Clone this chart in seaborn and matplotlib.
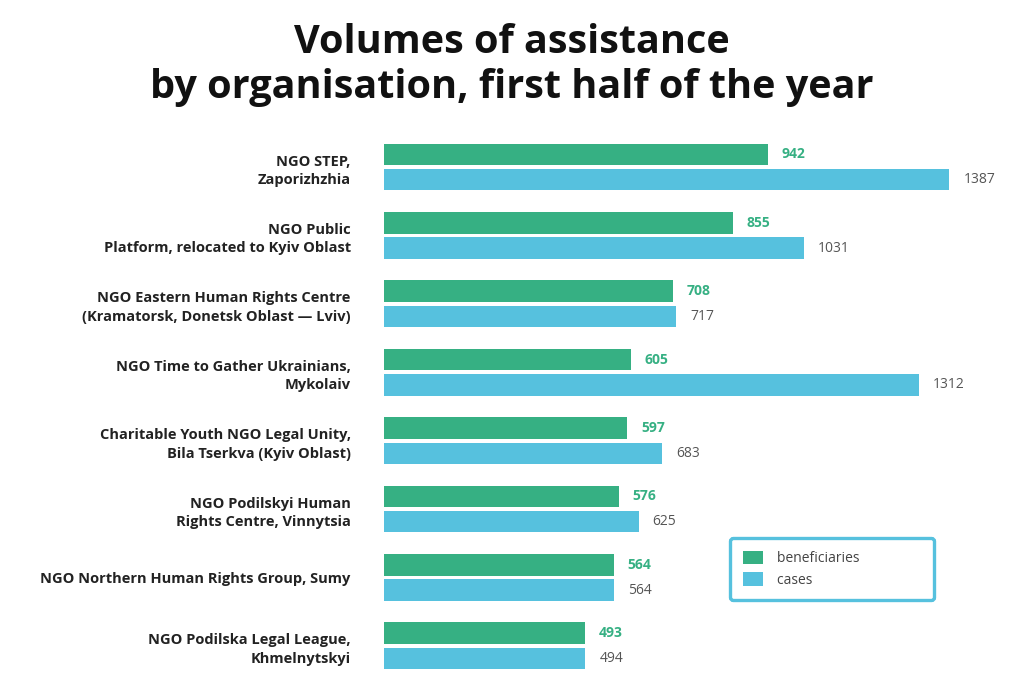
import pandas as pd
import matplotlib.pyplot as plt
import seaborn as sns

# chart values
organisations = [
    "NGO STEP,\nZaporizhzhia",
    "NGO Public\nPlatform, relocated to Kyiv Oblast",
    "NGO Eastern Human Rights Centre\n(Kramatorsk, Donetsk Oblast \u2014 Lviv)",
    "NGO Time to Gather Ukrainians,\nMykolaiv",
    "Charitable Youth NGO Legal Unity,\nBila Tserkva (Kyiv Oblast)",
    "NGO Podilskyi Human\nRights Centre, Vinnytsia",
    "NGO Northern Human Rights Group, Sumy",
    "NGO Podilska Legal League,\nKhmelnytskyi",
]
beneficiaries = [942, 855, 708, 605, 597, 576, 564, 493]
cases = [1387, 1031, 717, 1312, 683, 625, 564, 494]

GREEN = "#36b083"
BLUE = "#56c1de"

df = pd.DataFrame({
    "organisation": organisations * 2,
    "value": beneficiaries + cases,
    "series": ["beneficiaries"] * len(organisations) + ["cases"] * len(organisations),
})

sns.set_theme(style="white")
plt.rcParams["font.family"] = ["Open Sans", "DejaVu Sans"]

fig = plt.figure(figsize=(10.24, 6.97), dpi=100)
ax = fig.add_axes([0.375, 0.0244, 0.6, 0.785])

sns.barplot(data=df, y="organisation", x="value", hue="series",
            palette=[GREEN, BLUE], orient="h", width=0.74, gap=0.15,
            saturation=1, linewidth=0, ax=ax, legend=True)

ax.set_xlim(0, 1507)
ax.set_ylim(7.5, -0.5)
ax.set_xlabel("")
ax.set_ylabel("")
ax.set_xticks([])
sns.despine(ax=ax, left=True, bottom=True)
ax.tick_params(axis="y", length=0, pad=24)
for lab in ax.get_yticklabels():
    lab.set_fontweight("bold")
    lab.set_fontsize(10.5)
    lab.set_color("#222222")
    lab.set_linespacing(1.4)

# value labels
ax.bar_label(ax.containers[0], padding=10, color=GREEN, fontweight="bold", fontsize=10)
ax.bar_label(ax.containers[1], padding=10, color="#555555", fontsize=10)

leg = ax.legend(loc="upper left", bbox_to_anchor=(0.713, 0.228),
                bbox_transform=fig.transFigure, frameon=True, fancybox=True,
                framealpha=1, fontsize=10, handlelength=1.5, handleheight=1.1,
                borderpad=0.9, labelspacing=0.45, handletextpad=1.0,
                borderaxespad=0)
leg.get_frame().set_edgecolor(BLUE)
leg.get_frame().set_linewidth(2.4)
for t in leg.get_texts():
    t.set_color("#444444")
    t.set_text(t.get_text() + "                 ")

fig.text(0.5, 0.967, "Volumes of assistance\nby organisation, first half of the year",
         ha="center", va="top", fontsize=28.5, fontweight="bold", color="#111111",
         linespacing=1.2)

fig.savefig("out.png", dpi=100)
